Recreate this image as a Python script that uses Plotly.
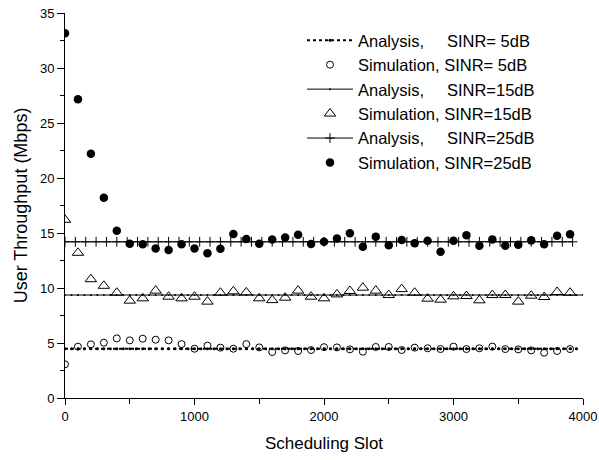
import plotly.graph_objects as go

# ---------------- data ----------------
sim_x = [0, 100, 200, 300, 400, 500, 600, 700, 800, 900,
         1000, 1100, 1200, 1300, 1400, 1500, 1600, 1700, 1800, 1900,
         2000, 2100, 2200, 2300, 2400, 2500, 2600, 2700, 2800, 2900,
         3000, 3100, 3200, 3300, 3400, 3500, 3600, 3700, 3800, 3900]

sim5 = [3.06, 4.67, 4.88, 5.03, 5.42, 5.24, 5.39, 5.30, 5.24, 4.90,
        4.48, 4.76, 4.58, 4.48, 4.90, 4.60, 4.18, 4.33, 4.27, 4.36,
        4.62, 4.60, 4.42, 4.21, 4.64, 4.64, 4.36, 4.58, 4.52, 4.45,
        4.67, 4.45, 4.52, 4.67, 4.45, 4.42, 4.33, 4.12, 4.27, 4.45]

sim15 = [16.2, 13.2, 10.8, 10.2, 9.57, 8.85, 9.06, 9.76, 9.21, 9.06,
         9.21, 8.76, 9.57, 9.70, 9.60, 9.06, 8.90, 9.12, 9.76, 9.21,
         9.06, 9.42, 9.73, 10.03, 9.76, 9.36, 9.90, 9.57, 9.03, 8.94,
         9.24, 9.27, 8.88, 9.36, 9.36, 8.76, 9.30, 9.18, 9.64, 9.57]

sim25 = [33.15, 27.15, 22.2, 18.2, 15.2, 14.03, 13.97, 13.6, 13.45, 13.97,
         13.6, 13.15, 13.57, 14.9, 14.45, 14.03, 14.4, 14.6, 14.85, 14.0,
         14.2, 14.5, 14.97, 13.76, 14.67, 13.88, 14.36, 14.06, 14.3, 13.3,
         14.3, 14.79, 13.85, 14.42, 13.85, 13.94, 14.33, 13.97, 14.76, 14.88]

# analytical (constant) levels and the slots where they are sampled
ana5_level, ana15_level, ana25_level = 4.48, 9.36, 14.2
ana5_x = list(range(0, 3951, 50))
ana15_x = list(range(0, 4001, 50))
ana25_x = list(range(0, 3921, 80))
ana5_y = [ana5_level] * len(ana5_x)
ana15_y = [ana15_level] * len(ana15_x)
ana25_y = [ana25_level] * len(ana25_x)

x_ticks = [0, 1000, 2000, 3000, 4000]
y_ticks = [0, 5, 10, 15, 20, 25, 30, 35]

FONT = "Liberation Sans, Arial, sans-serif"
NB = "\u00a0"

fig = go.Figure()

fig.add_trace(go.Scatter(
    x=ana5_x, y=ana5_y, mode="lines+markers",
    name="Analysis," + NB * 5 + "SINR=" + NB + "5dB",
    line=dict(color="black", width=2, dash="dot"),
    marker=dict(symbol="circle", size=3, color="black")))
fig.add_trace(go.Scatter(
    x=sim_x, y=sim5, mode="markers",
    name="Simulation, SINR=" + NB + "5dB",
    marker=dict(symbol="circle-open", size=7, color="black",
                line=dict(width=1, color="black"))))
fig.add_trace(go.Scatter(
    x=ana15_x, y=ana15_y, mode="lines+markers",
    name="Analysis," + NB * 5 + "SINR=15dB",
    line=dict(color="black", width=1),
    marker=dict(symbol="circle", size=2, color="black")))
fig.add_trace(go.Scatter(
    x=sim_x, y=sim15, mode="markers",
    name="Simulation, SINR=15dB",
    marker=dict(symbol="triangle-up-open", size=10, color="black",
                line=dict(width=1, color="black"))))
fig.add_trace(go.Scatter(
    x=ana25_x, y=ana25_y, mode="lines+markers",
    name="Analysis," + NB * 5 + "SINR=25dB",
    line=dict(color="black", width=1),
    marker=dict(symbol="cross-thin", size=7, color="black",
                line=dict(width=1, color="black"))))
fig.add_trace(go.Scatter(
    x=sim_x, y=sim25, mode="markers",
    name="Simulation, SINR=25dB",
    marker=dict(symbol="circle", size=8.5, color="black")))

axis_common = dict(
    showgrid=False, zeroline=False, showline=True, linecolor="black",
    linewidth=1, ticks="outside", tickcolor="black", tickwidth=1,
    tickfont=dict(family=FONT, size=13, color="black"), mirror=False,
)

fig.update_xaxes(
    range=[0, 4000], tickvals=x_ticks, ticklen=6,
    minor=dict(dtick=500, tick0=0, ticks="outside", ticklen=5,
               tickcolor="black", tickwidth=1),
    title=dict(text="Scheduling Slot", font=dict(family=FONT, size=17, color="black"),
               standoff=14),
    **axis_common)
fig.update_yaxes(
    range=[0, 35], tickvals=y_ticks, ticklen=7,
    minor=dict(dtick=2.5, tick0=0, ticks="outside", ticklen=4,
               tickcolor="black", tickwidth=1),
    title=dict(text="User Throughput (Mbps)", font=dict(family=FONT, size=18, color="black"),
               standoff=7),
    **axis_common)

fig.update_layout(
    width=599, height=460,
    margin=dict(l=65, r=16, t=13, b=62, autoexpand=False),
    paper_bgcolor="white", plot_bgcolor="white",
    font=dict(family=FONT, color="black"),
    showlegend=True,
    legend=dict(x=0.4575, y=0.974, xanchor="left", yanchor="top",
                bgcolor="rgba(0,0,0,0)", borderwidth=0,
                font=dict(family=FONT, size=16.5, color="black"),
                itemwidth=46, tracegroupgap=0),
)

fig.write_html("out.html")
